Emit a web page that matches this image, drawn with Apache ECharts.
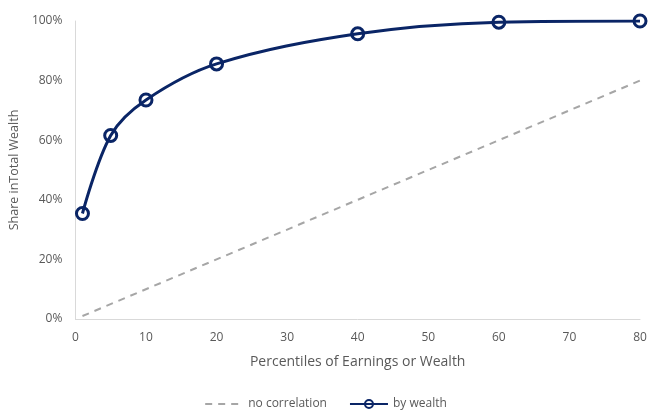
<!DOCTYPE html>
<html>
<head>
<meta charset="utf-8">
<script src="https://cdn.jsdelivr.net/npm/echarts@6/dist/echarts.min.js"></script>
<style>
  html, body { margin: 0; padding: 0; background: #fff; }
  #chart { width: 651px; height: 411px; }
</style>
</head>
<body>
<div id="chart"></div>
<script>
// Percentiles and cumulative wealth shares
const percentiles = [1, 5, 10, 20, 40, 60, 80];
const byWealth = [35.4, 61.6, 73.5, 85.6, 95.7, 99.6, 100];
const noCorrelationX = [1, 80];
const noCorrelation = [1, 80];

const textColor = '#595959';
const font = 'Open Sans';
const navy = '#0a2566';

const chart = echarts.init(document.getElementById('chart'));
chart.setOption({
  animation: false,
  grid: { left: 72, right: 11, top: 21, bottom: 92 },
  xAxis: {
    type: 'value', min: 0, max: 80, interval: 10,
    name: 'Percentiles of Earnings or Wealth',
    nameLocation: 'middle', nameGap: 36,
    nameTextStyle: { color: textColor, fontSize: 14, fontFamily: font },
    axisLine: { lineStyle: { color: '#d9d9d9' } },
    axisTick: { show: false },
    splitLine: { show: false },
    axisLabel: { color: textColor, fontSize: 12, fontFamily: font, margin: 13 }
  },
  yAxis: {
    type: 'value', min: 0, max: 100, interval: 20,
    name: 'Share inTotal Wealth',
    nameLocation: 'middle', nameGap: 49,
    nameTextStyle: { color: textColor, fontSize: 12.5, fontFamily: font },
    axisLine: { show: true, lineStyle: { color: '#d9d9d9' } },
    axisTick: { show: false },
    splitLine: { show: false },
    axisLabel: { color: textColor, fontSize: 12, fontFamily: font, formatter: '{value}%', margin: 13 }
  },
  legend: {
    bottom: -4, left: 'center', itemGap: 22, itemWidth: 38, itemHeight: 10,
    textStyle: { color: textColor, fontSize: 12, fontFamily: font },
    data: [
      { name: 'no correlation', itemStyle: { opacity: 0 } },
      { name: 'by wealth' }
    ]
  },
  series: [
    {
      name: 'no correlation', type: 'line', symbol: 'none',
      data: noCorrelationX.map((x, i) => [x, noCorrelation[i]]),
      lineStyle: { color: '#a6a6a6', width: 2, type: [7, 6] },
      itemStyle: { color: '#a6a6a6' }
    },
    {
      name: 'by wealth', type: 'line', smooth: 0.35,
      symbol: 'circle', symbolSize: 12,
      data: percentiles.map((x, i) => [x, byWealth[i]]),
      lineStyle: { color: navy, width: 3 },
      itemStyle: { color: 'rgba(255,255,255,0)', borderWidth: 3, borderColor: navy }
    }
  ]
});
</script>
</body>
</html>
